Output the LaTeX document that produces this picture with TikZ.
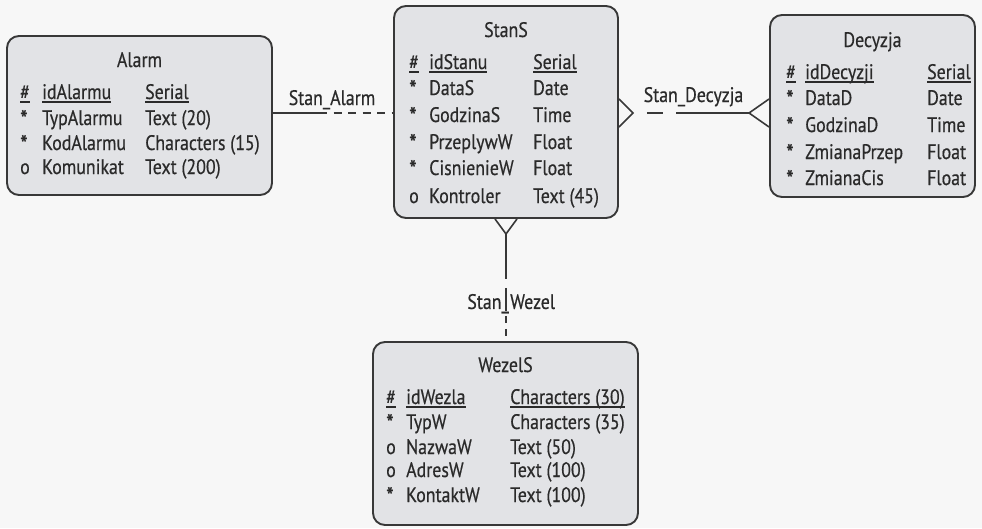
\documentclass[tikz,border=0pt]{standalone}
\usepackage{fontspec}
\setmainfont[FakeStretch=0.85, FakeBold=0.5]{PT Sans}
\usetikzlibrary{calc}

\definecolor{ink}{HTML}{2A2A2A}
\definecolor{frame}{HTML}{383838}
\definecolor{boxfill}{HTML}{E2E3E6}
\definecolor{paper}{HTML}{F7F7F7}

% underlined key attribute
\newcommand\keyul[1]{\setbox0\hbox{#1}\rlap{\color{ink}\rule[-3.5pt]{\wd0}{1.3pt}}\box0}
% mandatory-attribute mark
\newcommand\mand{\raisebox{-3pt}{\scalebox{1.2}{*}}}

% rows of an entity: prefix, x of symbol, x of name, x of type, list baseline/sym/name/type
\newcommand\entrows[5]{%
  \foreach \yy/\s/\n/\t [count=\i] in {#5} {
    \node[cell] (#1s\i) at (#2,\yy) {\s};
    \node[cell] (#1n\i) at (#3,\yy) {\n};
    \node[cell] (#1t\i) at (#4,\yy) {\t};
  }}

\tikzset{
  entbox/.style={draw=frame, fill=boxfill, line width=1.9pt, rounded corners=12pt,
    inner sep=0pt},
  cell/.style={anchor=base west, inner sep=0pt, text=ink},
  ttl/.style={anchor=base, inner sep=0pt, text=ink},
  rel/.style={draw=frame, line width=1.6pt},
  lbl/.style={anchor=base, inner sep=0pt, text=ink},
}

\begin{document}
\begin{tikzpicture}[x=1pt, y=-1pt, font=\fontsize{21}{24}\selectfont]
\useasboundingbox (0,0) rectangle (982,528);
\fill[paper] (0,0) rectangle (982,528);

% entity boxes
\node[entbox, minimum width=265pt, minimum height=159pt] (alarm)   at (139.5,115.5) {};
\node[entbox, minimum width=224pt, minimum height=212pt] (stans)   at (506,112) {};
\node[entbox, minimum width=205pt, minimum height=182pt] (decyzja) at (872.5,106) {};
\node[entbox, minimum width=265pt, minimum height=183pt] (wezels)  at (505.5,433.5) {};

% Alarm
\node[ttl] (alarm-t) at (139.5,67) {Alarm};
\entrows{al}{20}{42}{145}{
  99/{\keyul{\#}}/{\keyul{idAlarmu}}/{\keyul{Serial}},
  125/\mand/TypAlarmu/Text (20),
  150/\mand/KodAlarmu/Characters (15),
  174/o/Komunikat/Text (200)}

% StanS
\node[ttl] (stans-t) at (506,37) {StanS};
\entrows{st}{409}{429}{533}{
  69/{\keyul{\#}}/{\keyul{idStanu}}/{\keyul{Serial}},
  95/\mand/DataS/Date,
  122/\mand/GodzinaS/Time,
  149/\mand/PrzeplywW/Float,
  175/\mand/CisnienieW/Float,
  203/o/Kontroler/Text (45)}

% Decyzja
\node[ttl] (decyzja-t) at (872.5,47) {Decyzja};
\entrows{de}{786}{805}{927}{
  79/{\keyul{\#}}/{\keyul{idDecyzji}}/{\keyul{Serial}},
  105/\mand/DataD/Date,
  132/\mand/GodzinaD/Time,
  159/\mand/ZmianaPrzep/Float,
  185/\mand/ZmianaCis/Float}

% WezelS
\node[ttl] (wezels-t) at (505.5,372) {WezelS};
\entrows{we}{386}{406}{510}{
  404/{\keyul{\#}}/{\keyul{idWezla}}/{\keyul{Characters (30)}},
  429/\mand/TypW/Characters (35),
  454/o/NazwaW/Text (50),
  477/o/AdresW/Text (100),
  502/\mand/KontaktW/Text (100)}

% Stan_Alarm: one-to-one, optional on the StanS side
\coordinate (saA) at (alarm.east |- 0,113);
\coordinate (saS) at (stans.west |- 0,113);
\coordinate (saM) at (327,113);
\draw[rel] (saA) -- (saM);
\draw[rel, dash pattern=on 8pt off 6.5pt, dash phase=8pt] (saM) -- (saS);
\node[lbl] (sa-l) at (332,105) {Stan\_Alarm};

% Stan_Decyzja: crow's feet at both ends
\coordinate (sdS) at (stans.east |- 0,113);
\coordinate (sdD) at (decyzja.west |- 0,113);
\coordinate (sdS1) at ($(sdS)+(14,0)$);
\coordinate (sdD1) at ($(sdD)+(-20,0)$);
\coordinate (sdM) at (676,113);
\draw[rel, line join=miter] ($(sdS)+(0,-14)$) -- (sdS1) -- ($(sdS)+(0,14)$);
\draw[rel, dash pattern=on 16pt off 14pt, dash phase=16pt] (sdS1) -- (sdM);
\draw[rel] (sdM) -- (sdD1);
\draw[rel, line join=miter] ($(sdD)+(0,-14)$) -- (sdD1) -- ($(sdD)+(0,14)$);
\node[lbl] (sd-l) at (693.5,102) {Stan\_Decyzja};

% Stan_Wezel: crow's foot on StanS, optional on the WezelS side
\coordinate (swS) at (stans.south);
\coordinate (swW) at (stans.south |- wezels.north);
\coordinate (swS1) at ($(swS)+(0,15)$);
\coordinate (swM) at ($(swS)+(0,60)$);
\draw[rel, line join=miter] ($(swS)+(-11,0)$) -- (swS1) -- ($(swS)+(11,0)$);
\draw[rel] (swS1) -- (swM);
\draw[rel, dash pattern=on 0pt off 9pt on 23pt off 5pt on 7pt off 6pt on 7pt off 20pt] (swM) -- (swW);
\node[lbl, anchor=base east] (sw-l1) at ($(swS)+(3,90)$) {Stan\_};
\node[lbl, anchor=base west] (sw-l2) at ($(swS)+(4,90)$) {Wezel};
\end{tikzpicture}
\end{document}
